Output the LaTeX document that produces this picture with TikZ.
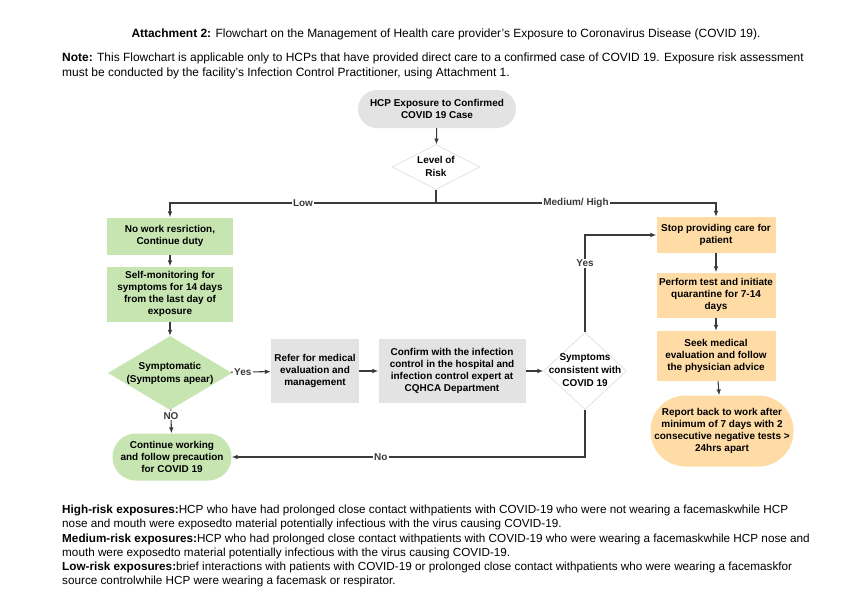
\documentclass[tikz,border=0pt]{standalone}
\usepackage{fontspec}
\setmainfont{Liberation Sans}
\usetikzlibrary{arrows.meta, shapes.geometric}
\definecolor{FCGreen}{HTML}{C6E5B1}
\definecolor{FCOrange}{HTML}{FFDCA6}
\definecolor{FCGray}{HTML}{E3E3E3}
\definecolor{FCEdge}{HTML}{D6D6D6}
\definecolor{FCLine}{HTML}{3A3A3A}
% text that does not widen the shape round it
\newcommand{\flatlines}[1]{\def\arraystretch{1.1}%
  \raisebox{-0.9ex}{\makebox[0pt]{\smash{\begin{tabular}{@{}c@{}}#1\end{tabular}}}}}

\begin{document}
\begin{tikzpicture}[x=0.03cm, y=-0.03cm,
    txt/.style={font=\fontsize{10.2}{12.4}\selectfont, inner sep=0pt},
    box/.style={rectangle, align=center, inner sep=1pt,
                font=\fontsize{8.5}{10.2}\selectfont\bfseries},
    green/.style={box, fill=FCGreen},
    orange/.style={box, fill=FCOrange},
    grey/.style={box, fill=FCGray},
    choice/.style={box, diamond, draw=FCEdge, fill=white, inner sep=0pt},
    lbl/.style={font=\fontsize{8.5}{10.2}\selectfont\bfseries, fill=white,
                inner sep=1pt},
    arrow/.style={-{Latex[length=5pt, width=4pt]}, FCLine, line width=0.9pt},
    link/.style={FCLine, line width=0.9pt}]
  \useasboundingbox (0,0) rectangle (850,614);

  % header text
  \node[txt] (title) at (446,34)
    {\textbf{Attachment 2:} Flowchart on the Management of Health care provider's Exposure to Coronavirus Disease (COVID 19).};
  \node[txt, anchor=north west, align=left, font=\fontsize{10.2}{12.8}\selectfont] (note) at (62,53)
    {\textbf{Note:} This Flowchart is applicable only to HCPs that have provided direct care to a confirmed case of COVID 19. Exposure risk assessment\\
     must be conducted by the facility's Infection Control Practitioner, using Attachment 1.};

  % top of the chart
  \node[grey, minimum width=4.74cm, minimum height=1.14cm, rounded corners=0.57cm] (start) at (437,109)
    {HCP Exposure to Confirmed\\ COVID 19 Case};
  \node[choice, minimum width=2.64cm, minimum height=1.35cm] (risk) at (436,167)
    {\flatlines{Level of\\ Risk}};
  \coordinate (split) at (436,203);

  % low risk column
  \node[green, minimum width=3.75cm, minimum height=1.11cm] (g1) at (170,236)
    {No work resriction,\\ Continue duty};
  \node[green, minimum width=3.75cm, minimum height=1.65cm] (g2) at (170,294)
    {Self-monitoring for\\ symptoms for 14 days\\ from the last day of\\ exposure};
  \node[choice, draw=none, fill=FCGreen, minimum width=3.72cm, minimum height=2.22cm] (sym) at (170,373)
    {\flatlines{Symptomatic\\ (Symptoms apear)}};
  \node[green, minimum width=3.57cm, minimum height=1.41cm, rounded corners=0.7cm] (cont) at (172,457)
    {Continue working\\ and follow precaution\\ for COVID 19};

  % middle row
  \node[grey, minimum width=2.64cm, minimum height=1.92cm] (refer) at (315,371)
    {Refer for medical\\ evaluation and\\ management};
  \node[grey, minimum width=4.41cm, minimum height=1.92cm] (confirm) at (452,371)
    {Confirm with the infection\\ control in the hospital and\\ infection control expert at\\ CQHCA Department};
  \node[choice, minimum width=2.49cm, minimum height=2.31cm] (consist) at (585,371)
    {\flatlines{Symptoms\\ consistent with\\ COVID 19}};

  % medium / high risk column
  \node[orange, minimum width=3.57cm, minimum height=1.08cm] (o1) at (716,235)
    {Stop providing care for\\ patient};
  \node[orange, minimum width=3.57cm, minimum height=1.35cm] (o2) at (716,295)
    {Perform test and initiate\\ quarantine for 7-14\\ days};
  \node[orange, minimum width=3.57cm, minimum height=1.5cm] (o3) at (716,356)
    {Seek medical\\ evaluation and follow\\ the physician advice};
  \node[orange, minimum width=4.29cm, minimum height=2.13cm, rounded corners=1.05cm] (report) at (722,431)
    {Report back to work after\\ minimum of 7 days with 2\\ consecutive negative tests >\\ 24hrs apart};

  % definitions
  \node[txt, anchor=north west, align=left, font=\fontsize{10}{12.1}\selectfont] (defs) at (62,505)
    {\textbf{High-risk exposures:}HCP who have had prolonged close contact withpatients with COVID-19 who were not wearing a facemaskwhile HCP\\
     nose and mouth were exposedto material potentially infectious with the virus causing COVID-19.\\
     \textbf{Medium-risk exposures:}HCP who had prolonged close contact withpatients with COVID-19 who were wearing a facemaskwhile HCP nose and\\
     mouth were exposedto material potentially infectious with the virus causing COVID-19.\\
     \textbf{Low-risk exposures:}brief interactions with patients with COVID-19 or prolonged close contact withpatients who were wearing a facemaskfor\\
     source controlwhile HCP were wearing a facemask or respirator.};

  % connectors
  \draw[arrow] (start) -- (risk);
  \draw[link] (risk.south) -- (split);
  \draw[arrow] (split) -| node[lbl, pos=0.25] {Low} (g1.north);
  \draw[arrow] (split) -| node[lbl, pos=0.25] {Medium/ High} (o1.north);
  \draw[arrow] (g1) -- (g2);
  \draw[arrow] (g2) -- (sym);
  \draw[arrow] (sym) -- node[lbl, pos=0.3] {Yes} (refer);
  \draw[arrow] (sym) -- node[lbl, pos=0.25] {NO} (cont);
  \draw[arrow] (refer) -- (confirm);
  \draw[arrow] (confirm) -- (consist);
  \draw[arrow] (consist.north) |- node[lbl, pos=0.355] {Yes} (o1.west);
  \draw[arrow] (consist.south) |- node[lbl, pos=0.789] {No} (cont.east);
  \draw[arrow] (o1) -- (o2);
  \draw[arrow] (o2) -- (o3);
  \draw[arrow] (o3) -- (report);
\end{tikzpicture}
\end{document}
